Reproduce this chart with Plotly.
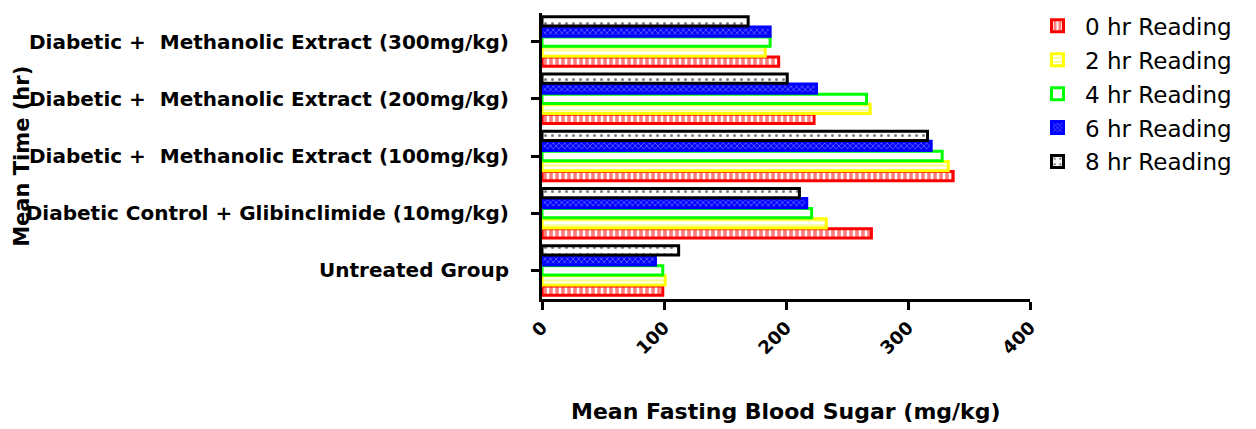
import plotly.graph_objects as go

categories = [
    "Untreated Group",
    "Diabetic Control + Glibinclimide (10mg/kg)",
    "Diabetic +  Methanolic Extract (100mg/kg)",
    "Diabetic +  Methanolic Extract (200mg/kg)",
    "Diabetic +  Methanolic Extract (300mg/kg)",
]
series_names = ["0 hr Reading", "2 hr Reading", "4 hr Reading", "6 hr Reading", "8 hr Reading"]
hr0 = [99, 270, 337, 223, 194]
hr2 = [101, 233, 333, 269, 183]
hr4 = [99, 221, 328, 266, 187]
hr6 = [93, 217, 319, 225, 187]
hr8 = [112, 211, 316, 201, 169]
values = [hr0, hr2, hr4, hr6, hr8]
x_ticks = [0, 100, 200, 300, 400]

colors = ["#ff0000", "#ffff00", "#00ff00", "#0000ff", "#000000"]
patterns = [
    dict(shape="|", fgcolor="#ff0000", bgcolor="white", size=6, solidity=0.6),
    dict(shape="-", fgcolor="#ffff00", bgcolor="white", size=5, solidity=0.4),
    dict(shape="", fgcolor="#00ff00", bgcolor="white"),
    dict(shape="x", fgcolor="white", bgcolor="#0000ff", size=4, solidity=0.3),
    dict(shape=".", fgcolor="#000000", bgcolor="white", size=7, solidity=0.15),
]

fig = go.Figure()
for i, (name, vals) in enumerate(zip(series_names, values)):
    fig.add_trace(go.Bar(
        y=categories, x=vals, name=name, orientation="h",
        legendgroup=name,
        marker=dict(color="white", line=dict(color=colors[i], width=3),
                    pattern=patterns[i]),
    ))

font_family = "DejaVu Sans, Liberation Sans, Arial, sans-serif"
fig.update_layout(
    width=1256, height=429,
    margin=dict(l=542, r=226, t=13, b=130, autoexpand=False),
    paper_bgcolor="white", plot_bgcolor="white",
    barmode="group", bargap=0.12, bargroupgap=0.08,
    font=dict(family=font_family, color="black"),
    showlegend=True,
    legend=dict(x=1.0, y=1.03, xanchor="left", yanchor="top",
                font=dict(size=23, family=font_family, color="black"),
                traceorder="grouped", tracegroupgap=1, itemwidth=45),
    xaxis=dict(range=[0, 400], tickvals=x_ticks, ticktext=[str(t) for t in x_ticks],
               showline=True, linecolor="black", linewidth=3,
               ticks="outside", ticklen=8, tickwidth=3, tickcolor="black",
               tickangle=-45, showgrid=False, zeroline=False, automargin=False,
               tickfont=dict(size=18, family=font_family, color="black", weight="bold")),
    yaxis=dict(range=[-0.5, 4.5], showline=True, linecolor="black", linewidth=3,
               ticks="outside", ticklen=8, tickwidth=3, tickcolor="black",
               showgrid=False, zeroline=False, ticklabelstandoff=18, automargin=False,
               tickfont=dict(size=20, family=font_family, color="black", weight="bold")),
    annotations=[
        dict(text="<b>Mean Fasting Blood Sugar (mg/kg)</b>", xref="paper", yref="paper",
             x=0.5, y=-0.393, xanchor="center", yanchor="middle", showarrow=False,
             font=dict(size=22, family=font_family, color="black")),
        dict(text="<b>Mean Time (hr)</b>", xref="paper", yref="paper",
             x=-1.066, y=0.5, xanchor="center", yanchor="middle", showarrow=False,
             textangle=-90, font=dict(size=21, family=font_family, color="black")),
    ],
)

fig.write_html("out.html", config={"displayModeBar": False},
               post_script="document.body.style.margin='0';")
